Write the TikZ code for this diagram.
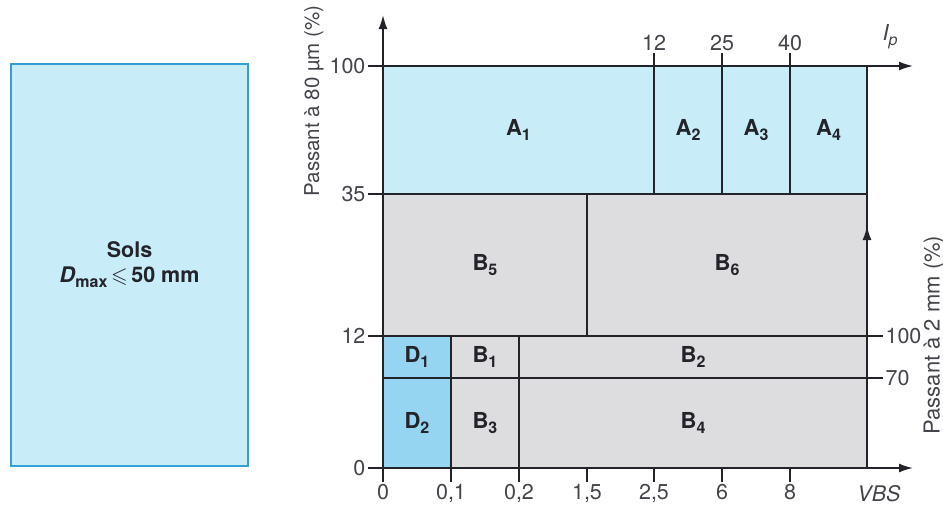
\documentclass[tikz,border=0pt]{standalone}
\usepackage{amssymb}
\usepackage{fontspec}
\setmainfont{TeX Gyre Heros}
\usetikzlibrary{arrows.meta,positioning}
\definecolor{solblue}{RGB}{201,236,249}
\definecolor{solframe}{RGB}{50,160,215}
\definecolor{soldeep}{RGB}{150,213,242}
\definecolor{solgrey}{RGB}{221,221,224}
\definecolor{solink}{RGB}{35,35,42}
\newcommand{\lowsub}[1]{\raisebox{-5pt}{\fontsize{16}{16}\selectfont#1}}

\begin{document}
\begin{tikzpicture}[x=1pt, y=-1pt, font=\fontsize{21.5}{24}\selectfont, >={Latex[length=14pt,width=9pt]}]
  \tikzset{zone/.style={draw=solink, line width=1.6pt, inner sep=0pt, text=solink, font=\fontsize{22}{25}\selectfont\bfseries},zoneA/.style={zone, fill=solblue},zoneB/.style={zone, fill=solgrey},zoneD/.style={zone, fill=soldeep},axis/.style={draw=solink, line width=1.6pt},tickline/.style={draw=solink, line width=1.1pt},tick/.style={text=solink!85, inner sep=2pt}}
  \useasboundingbox (0,0) rectangle (943,507);
  % left box
  \node[draw=solframe, line width=1.6pt, fill=solblue, minimum width=237pt, minimum height=402pt, align=center, text=solink, font=\fontsize{21.5}{25}\selectfont\bfseries] (sols) at (129.5,265) {Sols\\\textit{D}\lowsub{max}\,$\leqslant$\,50 mm};
  % zones
  \node[zoneA, minimum width=271pt, minimum height=128pt] (A1) at (518.5,130) {A\lowsub{1}};
  \node[zoneA, minimum width=68pt, minimum height=128pt] (A2) at (688,130) {A\lowsub{2}};
  \node[zoneA, minimum width=68pt, minimum height=128pt] (A3) at (756,130) {A\lowsub{3}};
  \node[zoneA, minimum width=77pt, minimum height=128pt] (A4) at (828.5,130) {A\lowsub{4}};
  \node[zoneB, minimum width=204pt, minimum height=142pt] (B5) at (485,265) {B\lowsub{5}};
  \node[zoneB, minimum width=280pt, minimum height=142pt] (B6) at (727,265) {B\lowsub{6}};
  \node[zoneD, minimum width=68pt, minimum height=42pt] (D1) at (417,357) {D\lowsub{1}};
  \node[zoneB, minimum width=68pt, minimum height=42pt] (B1) at (485,357) {B\lowsub{1}};
  \node[zoneB, minimum width=348pt, minimum height=42pt] (B2) at (693,357) {B\lowsub{2}};
  \node[zoneD, minimum width=68pt, minimum height=90pt] (D2) at (417,423) {D\lowsub{2}};
  \node[zoneB, minimum width=68pt, minimum height=90pt] (B3) at (485,423) {B\lowsub{3}};
  \node[zoneB, minimum width=348pt, minimum height=90pt] (B4) at (693,423) {B\lowsub{4}};
  % axes
  \coordinate (O) at (383,468);
  \coordinate (ytop) at (383,15);
  \coordinate (xend) at (913,468);
  \coordinate (ip0) at (383,66);
  \coordinate (ipend) at (913,66);
  \coordinate (rbot) at (867,468);
  \coordinate (rtop) at (867,226);
  \draw[axis, ->] (O) -- (ytop);
  \draw[axis, ->] (O) -- (xend);
  \draw[axis, ->] (ip0) -- (ipend);
  \draw[axis, ->] (rbot) -- (rtop);
  \foreach \y/\t [count=\i] in {66/100,194/35,336/12,468/0}
    \draw[tickline] (383,\y) -- (368,\y) node[tick, anchor=east] (yt\i) {\t};
  \foreach \x/\t [count=\i] in {383/0,451/{0,1},519/{0,2},587/{1,5},654/{2,5},722/6,790/8}
    \draw[tickline] (\x,468) -- (\x,482) node[tick, anchor=north] (xt\i) {\t};
  \foreach \x/\t [count=\i] in {654/12,722/25,790/40}
    \draw[tickline] (\x,66) -- (\x,53) node[tick, anchor=south] (pt\i) {\t};
  \foreach \y/\t [count=\i] in {336/100,378/70}
    \draw[tickline] (867,\y) -- (883,\y) node[tick, anchor=west] (rt\i) {\t};
  \node[tick, font=\fontsize{21.5}{24}\selectfont\itshape, anchor=north] (vbs) at (879,483) {VBS};
  \node[tick, font=\fontsize{22}{25}\selectfont\itshape] (ip) at (890,37) {I\lowsub{p}};
  \node[tick, rotate=90, font=\fontsize{20.5}{23}\selectfont] (ylab) at (314,101) {Passant à 80 µm (\%)};
  \node[tick, rotate=90, font=\fontsize{22}{25}\selectfont] (rlab) at (934,335) {Passant à 2 mm (\%)};
\end{tikzpicture}
\end{document}
